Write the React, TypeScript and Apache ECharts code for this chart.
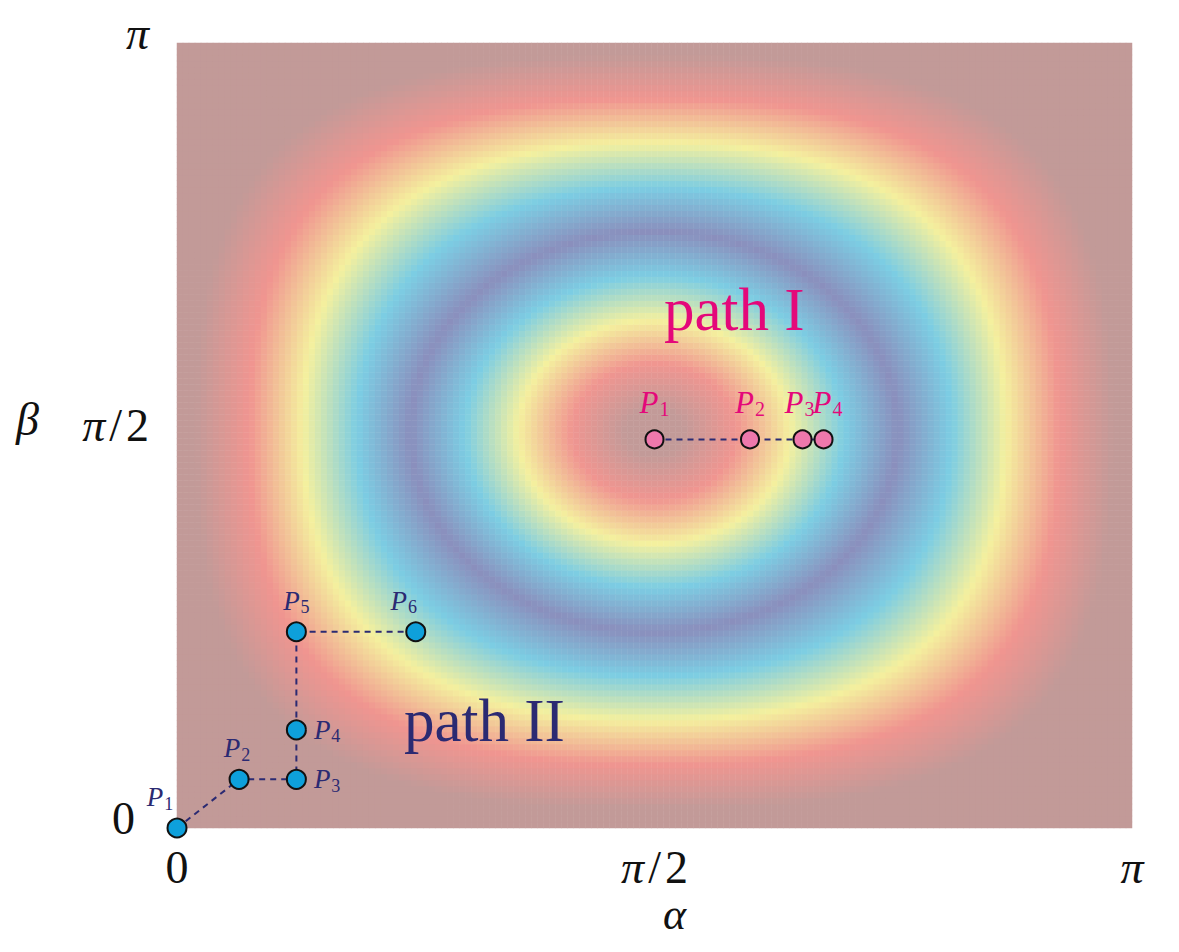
import React, { useEffect, useRef } from "react";
import * as echarts from "echarts";

// ---- axis ticks (in units of π) ----
const TICK_VALUES = [0, 0.5, 1];
const TICK_NAMES = ["zero", "half", "pi"];

// ---- path I (pink), α and β in units of π ----
const PATH1_ALPHA = [0.5, 0.6, 0.655, 0.677];
const PATH1_BETA = [0.495, 0.495, 0.495, 0.495];
const PATH1_NAMES = ["1", "2", "3", "4"];

// ---- path II (blue), α and β in units of π ----
const PATH2_ALPHA = [0, 0.065, 0.125, 0.125, 0.125, 0.25];
const PATH2_BETA = [0, 0.062, 0.062, 0.125, 0.25, 0.25];
const PATH2_NAMES = ["1", "2", "3", "4", "5", "6"];

// ---- background ring field ----
const RING_CENTER = [0.5, 0.505]; // units of π
const RING_RADIUS = 0.51; // fraction of half-extent
const RING_SQUARENESS = 1.6; // how fast outer rings turn square
const BAND_COLORS = ["#8a8fbd", "#7ccde3", "#f4f09e", "#f09590", "#c29a98"];
const BAND_MAX = 0.45;
const FIELD_COLS = 159;
const FIELD_ROWS = 131;

const SERIF = "'Liberation Serif', 'DejaVu Serif', serif";
const PINK_TEXT = "#e4087a";
const NAVY = "#2b2a72";
const INK = "#111";

function buildField() {
  const data: number[][] = [];
  for (let i = 0; i < FIELD_COLS; i++) {
    const a = (i + 0.5) / FIELD_COLS;
    const du = Math.abs((a - RING_CENTER[0]) * 2);
    for (let j = 0; j < FIELD_ROWS; j++) {
      const b = (j + 0.5) / FIELD_ROWS;
      const dv = Math.abs((b - RING_CENTER[1]) * 2);
      const r2 = Math.sqrt(du * du + dv * dv);
      const p = 2 + Math.max(0, r2 - 0.5) * RING_SQUARENESS;
      const r = Math.pow(Math.pow(du, p) + Math.pow(dv, p), 1 / p);
      data.push([i, j, Math.abs(r - RING_RADIUS)]);
    }
  }
  return data;
}

function richP(fs: number, sub: number, color: string) {
  return {
    p: { fontFamily: SERIF, fontStyle: "italic", fontSize: fs, color },
    s: { fontFamily: SERIF, fontSize: sub, color, padding: [Math.round(sub * 0.7), 0, 0, 1] },
  };
}

function axisRich(pad: number[]) {
  const base = { fontFamily: SERIF, fontSize: 46, color: INK, padding: pad };
  return {
    i: { ...base, fontStyle: "italic" },
    z: { ...base },
    sl: { ...base, padding: [pad[0], 4, pad[2], 4] },
    z0: { ...base, padding: [pad[0], 14, pad[2], 0] },
  };
}

export default function App() {
  const ref = useRef<HTMLDivElement>(null);
  useEffect(() => {
    if (!ref.current) return;
    const chart = echarts.init(ref.current, undefined, { renderer: "svg" });

    const grid = { left: 169, top: 35, width: 955, height: 785 };
    const tickText = (v: number, isY: boolean) => {
      const k = TICK_VALUES.findIndex((t) => Math.abs(t - v) < 1e-9);
      const name = TICK_NAMES[k];
      if (name === "zero") return isY ? "{z0|0}" : "{z|0}";
      if (name === "half") return "{i|π}{sl|/}{z|2}";
      if (name === "pi") return "{i|π}";
      return "";
    };

    const p1Data = PATH1_ALPHA.map((a, k) => [a, PATH1_BETA[k]]);
    const p2Data = PATH2_ALPHA.map((a, k) => [a, PATH2_BETA[k]]);
    const p1LabelPos: any[] = [
      { offset: [0, 0] },
      { offset: [0, 0] },
      { offset: [-3, 0] },
      { offset: [4, 0] },
    ];
    const p2LabelPos: any[] = [
      { position: "top", offset: [-17, 0] },
      { position: "top", offset: [-2, 0] },
      { position: "right", offset: [2, 0] },
      { position: "right", offset: [2, 0] },
      { position: "top", offset: [0, 0] },
      { position: "top", offset: [-12, 0] },
    ];

    chart.setOption({
      animation: false,
      grid: [grid, grid],
      xAxis: [
        {
          type: "category",
          gridIndex: 0,
          data: Array.from({ length: FIELD_COLS }, (_, i) => i),
          show: false,
        },
        {
          type: "value",
          gridIndex: 1,
          min: 0,
          max: 1,
          interval: 0.5,
          axisLine: { show: false },
          axisTick: { show: false },
          splitLine: { show: false },
          axisLabel: {
            formatter: (v: number) => tickText(v, false),
            margin: 16,
            fontFamily: SERIF,
            fontSize: 46,
            color: INK,
            rich: axisRich([0, 0, 0, 0]),
          },
        },
      ],
      yAxis: [
        {
          type: "category",
          gridIndex: 0,
          data: Array.from({ length: FIELD_ROWS }, (_, i) => i),
          show: false,
        },
        {
          type: "value",
          gridIndex: 1,
          min: 0,
          max: 1,
          interval: 0.5,
          axisLine: { show: false },
          axisTick: { show: false },
          splitLine: { show: false },
          axisLabel: {
            formatter: (v: number) => tickText(v, true),
            margin: 28,
            fontFamily: SERIF,
            fontSize: 46,
            color: INK,
            rich: axisRich([0, 0, 20, 0]),
          },
        },
      ],
      visualMap: {
        show: false,
        type: "continuous",
        min: 0,
        max: BAND_MAX,
        dimension: 2,
        seriesIndex: 0,
        inRange: { color: BAND_COLORS },
      },
      series: [
        {
          type: "heatmap",
          xAxisIndex: 0,
          yAxisIndex: 0,
          data: buildField(),
          progressive: 0,
          silent: true,
          emphasis: { disabled: true },
          itemStyle: { borderWidth: 0 },
          z: 1,
        },
        {
          type: "line",
          xAxisIndex: 1,
          yAxisIndex: 1,
          data: p1Data,
          symbol: "none",
          silent: true,
          lineStyle: { color: NAVY, width: 2, type: [6, 5] },
          z: 3,
        },
        {
          type: "line",
          xAxisIndex: 1,
          yAxisIndex: 1,
          data: p2Data,
          symbol: "none",
          silent: true,
          lineStyle: { color: NAVY, width: 2, type: [6, 5] },
          z: 3,
        },
        {
          type: "scatter",
          xAxisIndex: 1,
          yAxisIndex: 1,
          symbolSize: 18,
          data: p1Data.map((d, k) => ({ value: d, name: PATH1_NAMES[k], label: p1LabelPos[k] })),
          itemStyle: { color: "#ee78ac", borderColor: INK, borderWidth: 2, opacity: 1 },
          label: {
            show: true,
            position: "top",
            distance: 10,
            formatter: (p: any) => `{p|P}{s|${p.name}}`,
            rich: richP(31, 20, PINK_TEXT),
          },
          z: 4,
        },
        {
          type: "scatter",
          xAxisIndex: 1,
          yAxisIndex: 1,
          symbolSize: 19,
          data: p2Data.map((d, k) => ({
            value: d,
            name: PATH2_NAMES[k],
            label: p2LabelPos[k],
          })),
          itemStyle: { color: "#0ea0db", borderColor: INK, borderWidth: 2, opacity: 1 },
          label: {
            show: true,
            position: "top",
            distance: 5,
            formatter: (p: any) => `{p|P}{s|${p.name}}`,
            rich: richP(27, 18, NAVY),
          },
          z: 4,
        },
      ],
      graphic: [
        {
          type: "text",
          left: 656,
          top: 271,
          z: 10,
          style: { text: "path I", fontFamily: SERIF, fontSize: 61, fill: PINK_TEXT },
        },
        {
          type: "text",
          left: 396,
          top: 682,
          z: 10,
          style: { text: "path II", fontFamily: SERIF, fontSize: 61, fill: NAVY },
        },
        {
          type: "text",
          left: 655,
          top: 884,
          z: 10,
          style: { text: "α", fontFamily: SERIF, fontStyle: "italic", fontSize: 44, fill: INK },
        },
        {
          type: "text",
          left: 8,
          top: 388,
          z: 10,
          style: { text: "β", fontFamily: SERIF, fontStyle: "italic", fontSize: 46, fill: INK },
        },
      ],
    });
    return () => chart.dispose();
  }, []);
  return <div ref={ref} style={{ width: 1163, height: 936 }} />;
}
